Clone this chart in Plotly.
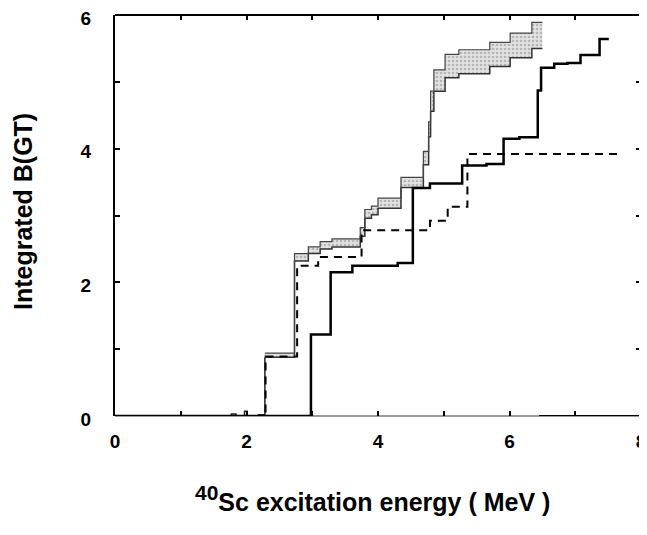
import plotly.graph_objects as go

# ---------------- data ----------------
# heavy solid step curve: step start energies (MeV) and cumulative B(GT)
solid_x = [0.0, 2.98, 3.28, 3.61, 4.30, 4.53, 4.79, 5.28, 5.65, 5.91, 6.15, 6.43, 6.48, 6.68, 6.88, 7.08, 7.37, 7.51]
solid_y = [0.0, 1.22, 2.15, 2.25, 2.29, 3.41, 3.48, 3.75, 3.77, 4.15, 4.17, 4.87, 5.21, 5.27, 5.28, 5.40, 5.64, 5.64]

# dashed step curve
dash_x = [0.0, 2.29, 2.77, 3.09, 3.75, 4.79, 5.06, 5.36, 7.69]
dash_y = [0.0, 0.89, 2.25, 2.38, 2.78, 2.92, 3.13, 3.92, 3.92]

# thin experimental curve below the band region
thin_x = [0.0, 1.77, 1.84, 1.97, 2.01, 2.18, 2.28]
thin_y = [0.0, 0.03, 0.0, 0.07, 0.0, 0.02, 0.88]

# experimental band: interval start energies, lower and upper bounds
band_x = [2.28, 2.73, 2.94, 3.12, 3.30, 3.73, 3.80, 3.90, 4.00, 4.35, 4.69, 4.77, 4.80, 4.85, 5.02, 5.23, 5.70, 6.01, 6.34, 6.50]
band_lo = [0.88, 2.32, 2.43, 2.50, 2.53, 2.69, 2.96, 3.01, 3.11, 3.42, 3.76, 4.18, 4.56, 4.86, 5.06, 5.12, 5.23, 5.36, 5.50, 5.50]
band_hi = [0.94, 2.43, 2.53, 2.61, 2.65, 2.82, 3.09, 3.14, 3.26, 3.57, 3.96, 4.40, 4.86, 5.18, 5.41, 5.48, 5.59, 5.73, 5.89, 5.89]

# baseline piece drawn in black at high energy
tail_x = [6.45, 8.0]
tail_y = [0.0, 0.0]

x_ticks = [0, 2, 4, 6, 8]
x_ticktext = ["0", "2", "4", "6", "8"]
y_ticks = [0, 2, 4, 6]
y_ticktext = ["0", "2", "4", "6"]

# ---------------- figure ----------------
fig = go.Figure()

fig.add_trace(go.Scatter(x=band_x, y=band_lo, mode="lines", line=dict(color="#333333", width=1.5, shape="hv"),
                         showlegend=False, hoverinfo="skip"))
fig.add_trace(go.Scatter(x=band_x, y=band_hi, mode="lines", line=dict(color="#444444", width=1.2, shape="hv"),
                         fill="tonexty", fillcolor="#d4d4d4",
                         fillpattern=dict(shape=".", fgcolor="#8a8a8a", bgcolor="#e2e2e2", size=4, solidity=0.35),
                         showlegend=False, hoverinfo="skip"))
fig.add_trace(go.Scatter(x=thin_x, y=thin_y, mode="lines", line=dict(color="#222222", width=1.5, shape="hv"),
                         showlegend=False, hoverinfo="skip"))
fig.add_trace(go.Scatter(x=dash_x, y=dash_y, mode="lines",
                         line=dict(color="black", width=2, shape="hv", dash="8px,6px"),
                         showlegend=False, hoverinfo="skip"))
fig.add_trace(go.Scatter(x=solid_x, y=solid_y, mode="lines", line=dict(color="black", width=2.5, shape="hv"),
                         showlegend=False, hoverinfo="skip"))
fig.add_trace(go.Scatter(x=tail_x, y=tail_y, mode="lines", line=dict(color="black", width=2),
                         showlegend=False, hoverinfo="skip"))

tickfont = dict(family="Arial", size=19, color="black", weight="bold")
minor = dict(dtick=1, ticks="inside", ticklen=5, tickwidth=1.5, tickcolor="black", showgrid=False)

# the page body adds an 8 px offset, so the figure is 8 px smaller and margins are shifted
fig.update_layout(
    width=639, height=527,
    margin=dict(l=107, r=6, t=7, b=119, autoexpand=False),
    paper_bgcolor="white", plot_bgcolor="white",
    showlegend=False,
    xaxis=dict(range=[0, 8], showgrid=False, zeroline=False, showline=False, mirror="ticks", automargin=False,
               ticks="inside", ticklen=5, tickwidth=1.5, tickcolor="black", minor=minor,
               ticklabeloverflow="allow",
               tickvals=x_ticks, ticktext=x_ticktext, tickfont=tickfont, ticklabelstandoff=12),
    yaxis=dict(range=[0, 6], showgrid=False, zeroline=False, showline=True, linecolor="black", linewidth=2,
               mirror="ticks", ticks="inside", ticklen=5, tickwidth=1.5, tickcolor="black", automargin=False,
               ticklabeloverflow="allow", ticklabelshift=3,
               minor=minor, tickvals=y_ticks, ticktext=y_ticktext, tickfont=tickfont, ticklabelstandoff=18),
    shapes=[
        dict(type="line", xref="paper", yref="paper", x0=0, x1=1, y0=1, y1=1,
             line=dict(color="black", width=2), layer="above"),
        dict(type="line", xref="paper", yref="paper", x0=0, x1=1, y0=0, y1=0,
             line=dict(color="#9a9a9a", width=2), layer="below"),
    ],
    annotations=[
        dict(text="Integrated B(GT)", xref="paper", yref="paper", x=-0.175, y=0.511,
             textangle=-90, showarrow=False, xanchor="center", yanchor="middle",
             font=dict(family="Arial", size=25, color="black", weight="bold")),
        dict(text="<sup><span style='font-size:21px'>40</span></sup>Sc excitation energy ( MeV )",
             xref="paper", yref="paper", x=0.49, y=-0.205,
             showarrow=False, xanchor="center", yanchor="middle",
             font=dict(family="Arial", size=25, color="black", weight="bold")),
    ],
)

fig.write_html("out.html")
